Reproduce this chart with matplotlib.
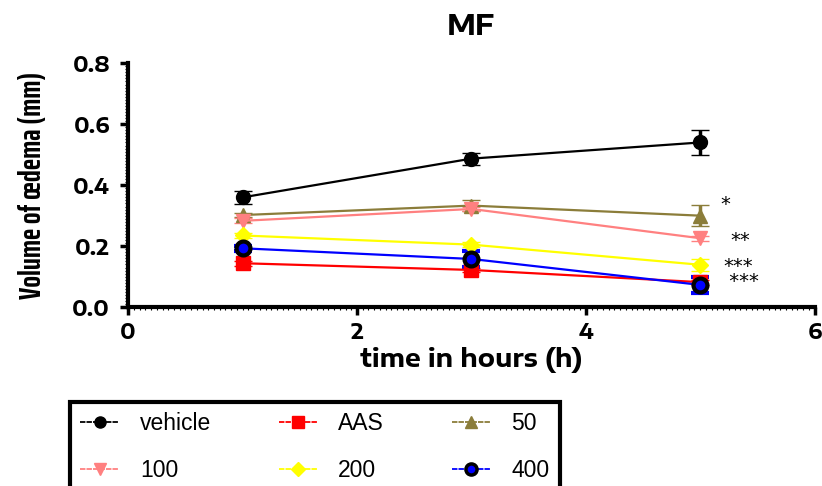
import matplotlib
matplotlib.use('Agg')
import matplotlib.pyplot as plt
from matplotlib.lines import Line2D
from matplotlib.ticker import MultipleLocator

# time points (h)
hours = [1, 3, 5]

# mean volume of oedema (mm) per group
vehicle = [0.360, 0.487, 0.540]
aas = [0.144, 0.122, 0.082]
dose50 = [0.302, 0.333, 0.300]
dose100 = [0.283, 0.322, 0.226]
dose200 = [0.235, 0.205, 0.139]
dose400 = [0.193, 0.158, 0.073]

# SEM
vehicle_err = [0.022, 0.020, 0.042]
aas_err = [0.008, 0.008, 0.008]
dose50_err = [0.008, 0.018, 0.035]
dose100_err = [0.008, 0.008, 0.008]
dose200_err = [0.008, 0.008, 0.020]
dose400_err = [0.008, 0.025, 0.025]

labels = ['vehicle', 'AAS', '50', '100', '200', '400']
# significance marks next to the 5 h points (the last two share one text)
stars = ['*', '**', '***\n ***']
star_x = [5.18, 5.26, 5.20]
star_y = [0.335, 0.219, 0.108]

wide = ['Encode Sans Expanded', 'DejaVu Sans']
narrow = ['Saira ExtraCondensed', 'DejaVu Sans']

fig = plt.figure(figsize=(8.22, 4.86), dpi=100)
ax = fig.add_axes([0.156, 0.368, 0.835, 0.502])

series = [
    (vehicle, vehicle_err, 'black', 'o', 'black'),
    (aas, aas_err, 'red', 's', 'red'),
    (dose50, dose50_err, '#8b7d3a', '^', '#8b7d3a'),
    (dose100, dose100_err, '#ff8080', 'v', '#ff8080'),
    (dose200, dose200_err, '#ffff00', 'D', '#ffff00'),
    (dose400, dose400_err, 'blue', 'o', 'black'),
]

handles = []
for (vals, err, col, mk, edge), lab in zip(series, labels):
    ax.errorbar(hours, vals, yerr=err, color=col, marker=mk, ms=10 if mk != 'D' else 8,
                mfc=col, mec=edge, mew=3 if lab == '400' else 1,
                lw=1.6, elinewidth=2.5, capsize=6.5, capthick=3)
    handles.append(Line2D([], [], color=col, marker=mk, ms=8 if mk != 'D' else 7,
                          mfc=col, mec=edge, mew=2.5 if lab == '400' else 1,
                          lw=1.3, ls=(0, (3, 0.6))))

for s, sx, sy in zip(stars, star_x, star_y):
    ax.text(sx, sy, s, fontsize=14, family='DejaVu Sans', ha='left', va='center',
            linespacing=0.75)

ax.set_xlim(0, 6)
ax.set_ylim(0, 0.8)
ax.xaxis.set_major_locator(MultipleLocator(2))
ax.xaxis.set_minor_locator(MultipleLocator(0.05))
ax.yaxis.set_major_locator(MultipleLocator(0.2))
ax.yaxis.set_minor_locator(MultipleLocator(0.01))
ax.tick_params(axis='y', which='major', width=2.5, length=6, pad=7)
ax.tick_params(axis='x', which='major', width=2.5, length=6, pad=5)
ax.tick_params(which='minor', width=0.8, length=2)
for lbl in ax.get_xticklabels() + ax.get_yticklabels():
    lbl.set_family(wide)
    lbl.set_fontsize(15)
    lbl.set_fontweight('bold')

ax.spines['top'].set_visible(False)
ax.spines['right'].set_visible(False)
ax.spines['left'].set_linewidth(3)
ax.spines['bottom'].set_linewidth(3)

ax.set_xlabel('time in hours (h)', fontsize=18, family=wide, fontweight='bold', labelpad=2)
ax.set_ylabel('Volume of œdema (mm)', fontsize=22, family=narrow, fontweight='bold')
ax.yaxis.set_label_coords(-0.118, 0.5)
ax.set_title('MF', fontsize=20, family=wide, fontweight='bold', pad=20)

# legend fills row by row in the reference: reorder for matplotlib's column fill
order = [0, 3, 1, 4, 2, 5]
leg = fig.legend(handles=[handles[i] for i in order], labels=[labels[i] for i in order],
                 ncol=3, loc='upper left', mode='expand',
                 bbox_to_anchor=(0.085, 0.0, 0.596, 0.173),
                 prop={'family': 'Liberation Sans', 'size': 16.5},
                 frameon=True, fancybox=False, framealpha=1,
                 edgecolor='black', handlelength=1.7, handletextpad=0.9,
                 labelspacing=1.05, borderpad=0.45, borderaxespad=0)
leg.get_frame().set_linewidth(3)

fig.savefig('out.png', dpi=100)
